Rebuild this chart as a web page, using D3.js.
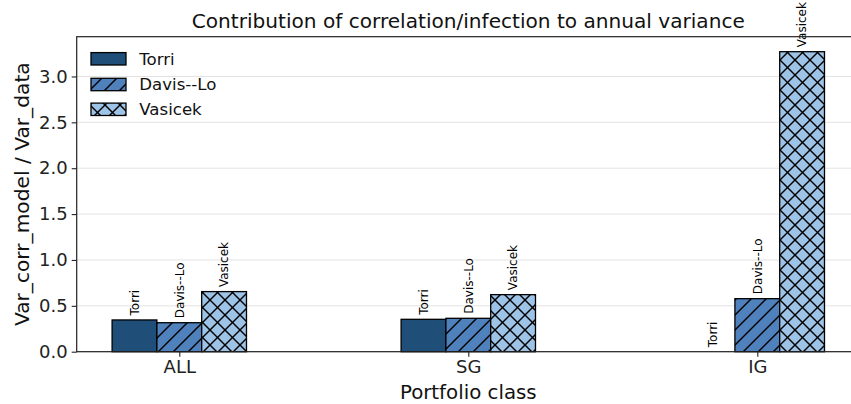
<!DOCTYPE html>
<html>
<head>
<meta charset="utf-8">
<script src="https://cdn.jsdelivr.net/npm/d3@7"></script>
<style>
  html, body { margin: 0; padding: 0; background: #fff; }
  svg { display: block; font-family: "DejaVu Sans", sans-serif; }
</style>
</head>
<body>
<svg id="chart" width="851" height="404"></svg>
<script>
// ---- data ----
const categories = ["ALL", "SG", "IG"];
const seriesNames = ["Torri", "Davis--Lo", "Vasicek"];
const torri = [0.346, 0.353, 0.0];
const davisLo = [0.316, 0.364, 0.578];
const vasicek = [0.655, 0.622, 3.27];
const yTicks = [0.0, 0.5, 1.0, 1.5, 2.0, 2.5, 3.0];
const titleText = "Contribution of correlation/infection to annual variance";
const xLabel = "Portfolio class";
const yLabel = "Var_corr_model / Var_data";

(function () {
const seriesValues = [torri, davisLo, vasicek];
const colors = ["#1f4e79", "#4f81bd", "#9dc3e6"];
const fills = ["#1f4e79", "url(#hatchSlash)", "url(#hatchCross)"];

const svg = d3.select("#chart");
const pL = 76.7, pR = 859.9, pT = 36.7, pB = 351.7;

// patterns
const defs = svg.append("defs");
const P = 15;
function makePattern(id, bg, cross) {
  const p = defs.append("pattern").attr("id", id)
    .attr("patternUnits", "userSpaceOnUse")
    .attr("width", P).attr("height", P);
  p.append("rect").attr("width", P).attr("height", P).attr("fill", bg);
  const g = p.append("g").attr("stroke", "#000").attr("stroke-width", 1.4);
  g.append("line").attr("x1", 0).attr("y1", P).attr("x2", P).attr("y2", 0);
  g.append("line").attr("x1", -P).attr("y1", P).attr("x2", P).attr("y2", -P);
  g.append("line").attr("x1", 0).attr("y1", 2*P).attr("x2", 2*P).attr("y2", 0);
  if (cross) {
    g.append("line").attr("x1", 0).attr("y1", 0).attr("x2", P).attr("y2", P);
    g.append("line").attr("x1", -P).attr("y1", 0).attr("x2", P).attr("y2", 2*P);
    g.append("line").attr("x1", 0).attr("y1", -P).attr("x2", 2*P).attr("y2", P);
  }
}
makePattern("hatchSlash", colors[1], false);
makePattern("hatchCross", colors[2], true);

const maxV = d3.max(seriesValues.flat());
const x = d3.scaleLinear().domain([-0.355, 2.355]).range([pL, pR]);
const y = d3.scaleLinear().domain([0, maxV * 1.05]).range([pB, pT]);
const bw = 0.155;

// grid
svg.append("g").selectAll("line").data(yTicks).join("line")
  .attr("x1", pL).attr("x2", pR)
  .attr("y1", d => y(d)).attr("y2", d => y(d))
  .attr("stroke", "#e3e3e3").attr("stroke-width", 1);

// bars
const barData = [];
seriesValues.forEach((vals, si) => {
  vals.forEach((v, ci) => barData.push({si, ci, v}));
});
const bars = svg.append("g");
bars.selectAll("rect").data(barData).join("rect")
  .attr("x", d => x(d.ci + (d.si - 1) * bw - bw / 2))
  .attr("width", d => x(bw) - x(0))
  .attr("y", d => y(d.v))
  .attr("height", d => y(0) - y(d.v))
  .attr("fill", d => fills[d.si])
  .attr("stroke", "#000").attr("stroke-width", d => d.v > 0 ? 1.3 : 0);

// bar labels
bars.selectAll("text").data(barData).join("text")
  .attr("transform", d => `translate(${x(d.ci + (d.si - 1) * bw)},${y(d.v) - 4.5}) rotate(-90)`)
  .attr("text-anchor", "start").attr("dy", "0.36em")
  .attr("font-size", 12).attr("fill", "#000")
  .text(d => seriesNames[d.si]);

// axes
const yAxis = d3.axisLeft(y).tickValues(yTicks).tickFormat(d3.format(".1f")).tickSize(5).tickPadding(4);
const yg = svg.append("g").attr("transform", `translate(${pL},0)`).call(yAxis);
yg.select(".domain").remove();
yg.selectAll("text").attr("font-size", 18).attr("font-family", "DejaVu Sans").attr("fill", "#222");
yg.selectAll("line").attr("stroke", "#222").attr("stroke-width", 1.1);

const xAxis = d3.axisBottom(x).tickValues([0, 1, 2]).tickFormat(i => categories[i]).tickSize(5).tickPadding(4);
const xg = svg.append("g").attr("transform", `translate(0,${pB})`).call(xAxis);
xg.select(".domain").remove();
xg.selectAll("text").attr("font-size", 18).attr("font-family", "DejaVu Sans").attr("fill", "#222");
xg.selectAll("line").attr("stroke", "#222").attr("stroke-width", 1.1);

// spines
svg.append("rect").attr("x", pL).attr("y", pT).attr("width", pR - pL).attr("height", pB - pT)
  .attr("fill", "none").attr("stroke", "#222").attr("stroke-width", 1.2);

// title and labels
svg.append("text").attr("x", (pL + pR) / 2).attr("y", 28)
  .attr("text-anchor", "middle").attr("font-size", 20.1).attr("fill", "#111").text(titleText);
svg.append("text").attr("x", (pL + pR) / 2).attr("y", 399)
  .attr("text-anchor", "middle").attr("font-size", 19.8).attr("fill", "#111").text(xLabel);
svg.append("text").attr("transform", `translate(29,${(pT + pB) / 2}) rotate(-90)`)
  .attr("text-anchor", "middle").attr("font-size", 20.2).attr("fill", "#111").text(yLabel);

// legend
const lg = svg.append("g");
const legY = [58.8, 84.5, 109.3];
seriesNames.forEach((name, i) => {
  lg.append("rect").attr("x", 91).attr("y", legY[i] - 6.2).attr("width", 35).attr("height", 12.4)
    .attr("fill", fills[i]).attr("stroke", "#000").attr("stroke-width", 1.3);
  lg.append("text").attr("x", 139.3).attr("y", legY[i]).attr("dy", "0.36em")
    .attr("font-size", 16.6).attr("fill", "#111").text(name);
});
})();
</script>
</body>
</html>
